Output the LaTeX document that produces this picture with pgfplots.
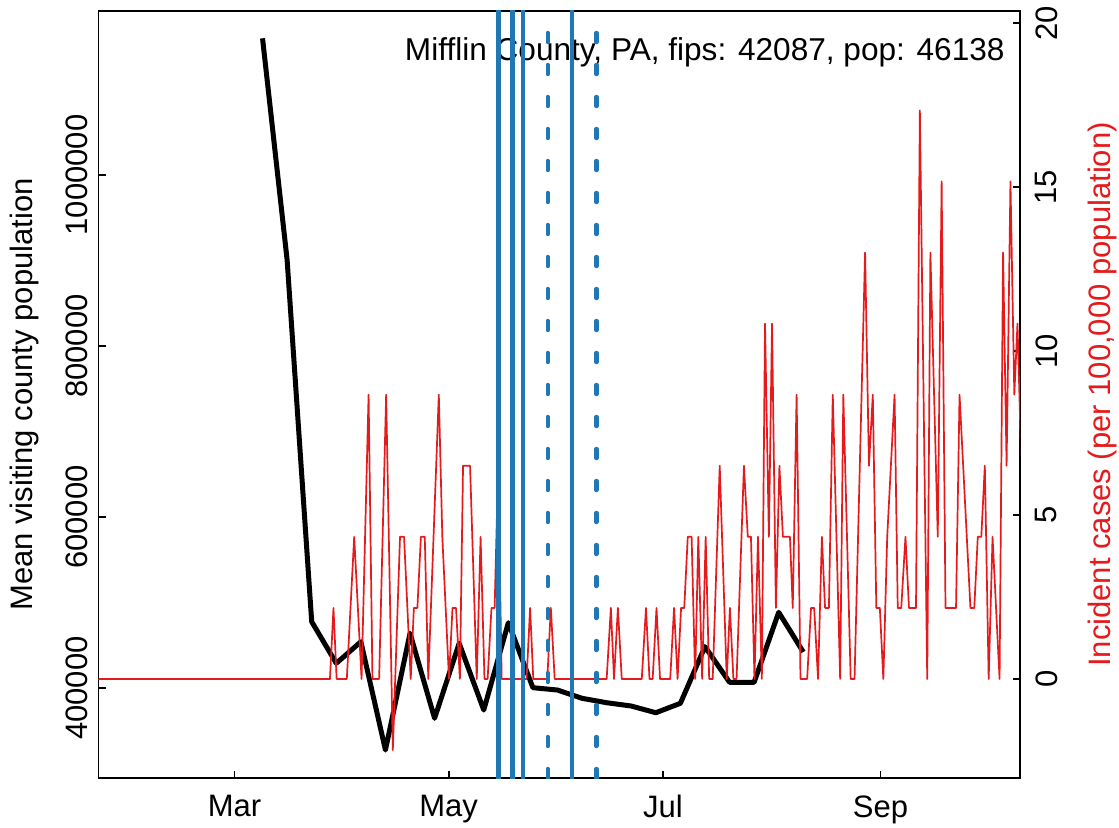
\documentclass[border=0pt]{standalone}
\usepackage{fontspec}
\setmainfont{Liberation Sans}
\usepackage{pgfplots}
\pgfplotsset{compat=1.18}
\definecolor{cblue}{HTML}{1F78B4}
\definecolor{cred}{HTML}{E41A1C}
\begin{document}
\begin{tikzpicture}
\path[use as bounding box] (-49.25pt,-24.5pt) rectangle (510.25pt,389pt);
\pgfplotsset{every axis/.append style={font=\fontsize{15.5pt}{18pt}\selectfont}}
\begin{axis}[
  at={(0,0)}, anchor=south west, scale only axis, width=460.75pt, height=383.5pt,
  xmin=22.28, xmax=284.72, ymin=294730, ymax=1191814,
  scaled y ticks=false, scaled x ticks=false,
  xtick={61,122,183,245}, xticklabels={Mar,May,Jul,Sep},
  ytick={400000,600000,800000,1000000}, yticklabels={400000,600000,800000,1000000},
  xtick pos=bottom, ytick pos=left,
  tick align=inside, major tick length=3.75pt,
  tick style={black, line width=0.9pt},
  axis line style={line width=0.9pt},
  xticklabel style={anchor=north, inner sep=0pt, yshift=-8.5pt},
  yticklabel style={rotate=90, anchor=south, inner sep=0pt},
  yticklabel shift=5.25pt,
  ylabel={Mean visiting county population},
  ylabel style={at={(axis description cs:-0.0711,0.5)}, anchor=base, inner sep=0pt},
]
\addplot[black, line width=2.5pt, line join=round] coordinates {
(69,1159880) (76,900580) (83,477540) (90,428890) (97,454150) (104,327480)
(111,463970) (118,364560) (125,452280) (132,374260) (139,476370) (146,400350)
(153,397640) (160,387930) (167,382790) (174,378930) (181,371090) (188,382090)
(195,448400) (202,406700) (209,406700) (216,488530) (223,442100)
};
\node[anchor=base east, inner sep=0pt, font=\fontsize{15.8pt}{18pt}\selectfont] at (rel axis cs:0.9837,0.936) {Mifflin County, PA, fips: 42087, pop: 46138};
\end{axis}
\begin{axis}[
  at={(0,0)}, anchor=south west, scale only axis, width=460.75pt, height=383.5pt,
  xmin=22.28, xmax=284.72, ymin=-3.02, ymax=20.37,
  scaled y ticks=false,
  axis x line=none, axis y line*=right,
  ytick={0,5,10,15,20}, yticklabels={0,5,10,15,20},
  tick align=inside, major tick length=3.75pt,
  tick style={black, line width=0.9pt},
  axis line style={line width=0.9pt},
  yticklabel style={rotate=90, anchor=north, inner sep=0pt},
  yticklabel shift=7.5pt,
  ylabel={Incident cases (per 100,000 population)},
  ylabel style={at={(axis description cs:1.0977,0.5)}, anchor=base, inner sep=0pt, text=cred},
]
\addplot[cred, line width=0.85pt, line join=round] coordinates {
(20,0) (88.2,0) (89.2,2.167) (90.1,0) (93.0,0) (95.1,4.335) (97.2,0) (99.2,8.670)
(100.3,0) (102.2,0) (104.2,8.670) (106.1,-2.167) (108.15,4.335) (109.3,4.335)
(111.2,0) (112.1,2.167) (113.1,2.167) (114.1,4.335) (115.2,4.335) (116.2,0)
(119.2,8.670) (120.2,4.335) (122.1,0) (123.1,2.167) (124.1,2.167) (125.2,0)
(126.1,6.502) (128.1,6.502) (130.0,0) (131.1,4.335) (132.2,0) (133.1,0)
(134.2,2.167) (135.1,2.167) (136.1,6.502) (137.1,0) (144.2,0) (145.2,2.167)
(146.1,0) (150.1,0) (151.1,2.167) (152.2,0) (167.0,0) (168.2,2.167) (169.1,0)
(170.2,2.167) (171.3,0) (177.0,0) (178.2,2.167) (179.2,0) (180.1,0) (181.2,2.167)
(182.2,0) (185.1,0) (186.2,2.167) (187.2,0) (188.2,2.167) (189.1,2.167)
(190.1,4.335) (191.2,4.335) (192.2,0) (193.1,4.335) (194.2,0) (195.2,4.335)
(196.2,0) (197.2,0) (199.2,6.502) (201.2,0) (202.1,2.167) (203.1,0) (204.0,0)
(206.1,6.502) (207.2,4.335) (208.1,4.335) (209.1,0) (210.1,4.335) (211.2,0)
(212.1,10.837) (213.2,4.335) (214.1,10.837) (215.2,2.167) (216.2,6.502)
(217.2,4.335) (219.2,4.335) (220.0,2.167) (221.1,8.670) (222.2,0) (224.1,0)
(225.2,2.167) (226.1,2.167) (227.2,0) (228.3,4.335) (229.2,2.167) (230.3,2.167)
(231.4,8.670) (233.5,0) (234.4,8.670) (236.5,0) (237.6,0) (240.6,13.004)
(241.7,6.502) (242.8,8.670) (243.8,2.167) (244.8,2.167) (245.8,0) (246.9,4.335)
(249.0,8.670) (249.9,2.167) (250.9,2.167) (252.1,4.335) (253.1,2.167)
(255.1,2.167) (256.2,17.339) (258.3,0) (259.2,13.004) (261.3,4.335)
(262.4,15.172) (263.5,2.167) (266.5,2.167) (267.5,8.670) (270.6,2.167)
(271.7,2.167) (272.7,4.335) (273.7,4.335) (274.7,6.502) (275.8,0) (276.9,4.335)
(278.9,0) (279.9,13.004) (280.9,6.502) (282.0,15.172) (283.1,8.670)
(284.0,10.837) (285.1,6.502) (286.6,13.004)
};
\addplot[cblue, line width=2.2pt] coordinates {(136.15,-5) (136.15,25)};
\addplot[cblue, line width=2.2pt] coordinates {(140.14,-5) (140.14,25)};
\addplot[cblue, line width=2.2pt] coordinates {(143.18,-5) (143.18,25)};
\addplot[cblue, line width=2.2pt] coordinates {(157.14,-5) (157.14,25)};
\addplot[cblue, line width=2.2pt, line cap=round, dash pattern=on 4.5pt off 11.5pt] coordinates {(150.22,-3.02) (150.22,20.37)};
\addplot[cblue, line width=2.2pt, line cap=round, dash pattern=on 4.5pt off 11.5pt] coordinates {(164.06,-3.02) (164.06,20.37)};
\end{axis}
\end{tikzpicture}
\end{document}
